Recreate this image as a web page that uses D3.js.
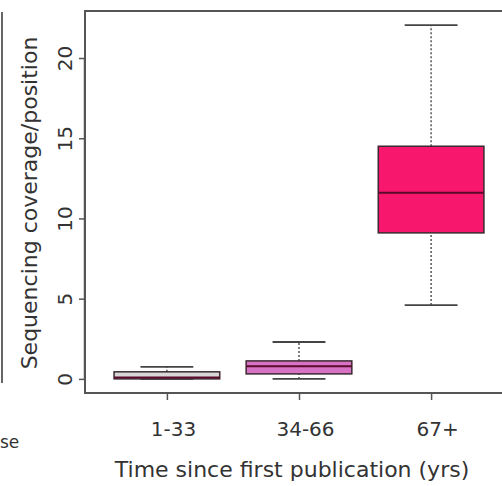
<!DOCTYPE html>
<html lang="en">
<head>
  <meta charset="UTF-8" />
  <title>Sequencing coverage by time since first publication</title>
  <script src="https://d3js.org/d3.v7.min.js"></script>
  <style>
    html, body {
      margin: 0;
      padding: 0;
      background: #fff;
      overflow: hidden;
    }
    text {
      font-family: "DejaVu Sans", Arial, sans-serif;
      fill: #333;
    }
  </style>
</head>
<body>
  <div id="chart"></div>

  <script>
    // ---- data ----
    const categories = ["1-33", "34-66", "67+"];
    const whiskerLow = [0, 0, 4.6];
    const q1 = [0, 0.31, 9.1];
    const median = [0.08, 0.78, 11.6];
    const q3 = [0.44, 1.12, 14.5];
    const whiskerHigh = [0.75, 2.3, 22.05];
    const boxColors = ["#d8d8d8", "#d872c4", "#f7176c"];
    const yTicks = [0, 5, 10, 15, 20];

    const width = 502, height = 486;

    const svg = d3.select("#chart")
      .append("svg")
      .attr("width", width)
      .attr("height", height);

    // R-style plot region: x from 0.38 to 3.62 (4% padding), right edge off-canvas
    const x = d3.scaleLinear().domain([0.38, 3.62]).range([85, 513]);
    const y = d3.scaleLinear().domain([-0.88, 22.93]).range([393, 11]);

    const boxHalf = 0.4;    // box width 0.8
    const stapleHalf = 0.2; // staple half of box

    // fragment of neighbouring panel on the left
    svg.append("line")
      .attr("x1", 2).attr("x2", 2)
      .attr("y1", 12).attr("y2", 383)
      .attr("stroke", "#666").attr("stroke-width", 2);
    svg.append("text")
      .attr("x", 0).attr("y", 448)
      .attr("font-size", 17)
      .text("se");

    const data = categories.map((c, i) => ({
      cat: c, pos: i + 1,
      lo: whiskerLow[i], q1: q1[i], med: median[i], q3: q3[i], hi: whiskerHigh[i],
      color: boxColors[i]
    }));

    const g = svg.selectAll("g.box")
      .data(data)
      .enter()
      .append("g")
      .attr("class", "box");

    // dashed whiskers
    g.append("line")
      .attr("x1", d => x(d.pos)).attr("x2", d => x(d.pos))
      .attr("y1", d => y(d.q3)).attr("y2", d => y(d.hi))
      .attr("stroke", "#555").attr("stroke-width", 1.5)
      .attr("stroke-dasharray", "2,2");
    g.append("line")
      .attr("x1", d => x(d.pos)).attr("x2", d => x(d.pos))
      .attr("y1", d => y(d.lo)).attr("y2", d => y(d.q1))
      .attr("stroke", "#555").attr("stroke-width", 1.5)
      .attr("stroke-dasharray", "2,2");

    // staples
    g.append("line")
      .attr("x1", d => x(d.pos - stapleHalf)).attr("x2", d => x(d.pos + stapleHalf))
      .attr("y1", d => y(d.hi)).attr("y2", d => y(d.hi))
      .attr("stroke", "#444").attr("stroke-width", 1.8);
    g.append("line")
      .attr("x1", d => x(d.pos - stapleHalf)).attr("x2", d => x(d.pos + stapleHalf))
      .attr("y1", d => y(d.lo)).attr("y2", d => y(d.lo))
      .attr("stroke", "#444").attr("stroke-width", 1.8);

    // boxes
    g.append("rect")
      .attr("x", d => x(d.pos - boxHalf))
      .attr("width", d => x(d.pos + boxHalf) - x(d.pos - boxHalf))
      .attr("y", d => y(d.q3))
      .attr("height", d => y(d.q1) - y(d.q3))
      .attr("fill", d => d.color)
      .attr("stroke", "#3a2a30").attr("stroke-width", 1.5);

    // medians
    g.append("line")
      .attr("x1", d => x(d.pos - boxHalf)).attr("x2", d => x(d.pos + boxHalf))
      .attr("y1", d => y(d.med)).attr("y2", d => y(d.med))
      .attr("stroke", "#5a0a2a").attr("stroke-width", 2);

    // frame
    svg.append("rect")
      .attr("x", x.range()[0]).attr("y", y.range()[1])
      .attr("width", x.range()[1] - x.range()[0])
      .attr("height", y.range()[0] - y.range()[1])
      .attr("fill", "none")
      .attr("stroke", "#555").attr("stroke-width", 2);

    // y axis (R style, rotated labels)
    const yAxis = svg.append("g")
      .attr("transform", `translate(${x.range()[0]},0)`)
      .call(d3.axisLeft(y).tickValues(yTicks).tickSize(6).tickSizeOuter(0).tickFormat(d3.format("d")));
    yAxis.select(".domain").attr("stroke", "#555").attr("stroke-width", 1.5)
      .attr("d", `M-0.5,${y(0)}V${y(20)}`);
    yAxis.selectAll(".tick line").attr("stroke", "#555").attr("stroke-width", 1.5);
    yAxis.selectAll(".tick text")
      .attr("font-size", 20)
      .attr("fill", "#333")
      .attr("text-anchor", "middle")
      .attr("x", 0).attr("dy", 0)
      .attr("transform", "translate(-13,0) rotate(-90)");

    // x axis
    const xAxis = svg.append("g")
      .attr("transform", `translate(0,${y.range()[0]})`)
      .call(d3.axisBottom(x).tickValues([1, 2, 3]).tickSize(7)
        .tickFormat((d) => categories[d - 1]));
    xAxis.select(".domain").remove();
    xAxis.selectAll(".tick line").attr("stroke", "#555").attr("stroke-width", 1.5);
    xAxis.selectAll(".tick text")
      .attr("font-size", 20)
      .attr("fill", "#333")
      .attr("x", 6)
      .attr("y", 43).attr("dy", 0);

    // axis titles
    svg.append("text")
      .attr("x", 292).attr("y", 477)
      .attr("text-anchor", "middle")
      .attr("font-size", 22)
      .text("Time since first publication (yrs)");

    svg.append("text")
      .attr("transform", "translate(37,203) rotate(-90)")
      .attr("text-anchor", "middle")
      .attr("font-size", 22)
      .text("Sequencing coverage/position");
  </script>
</body>
</html>
